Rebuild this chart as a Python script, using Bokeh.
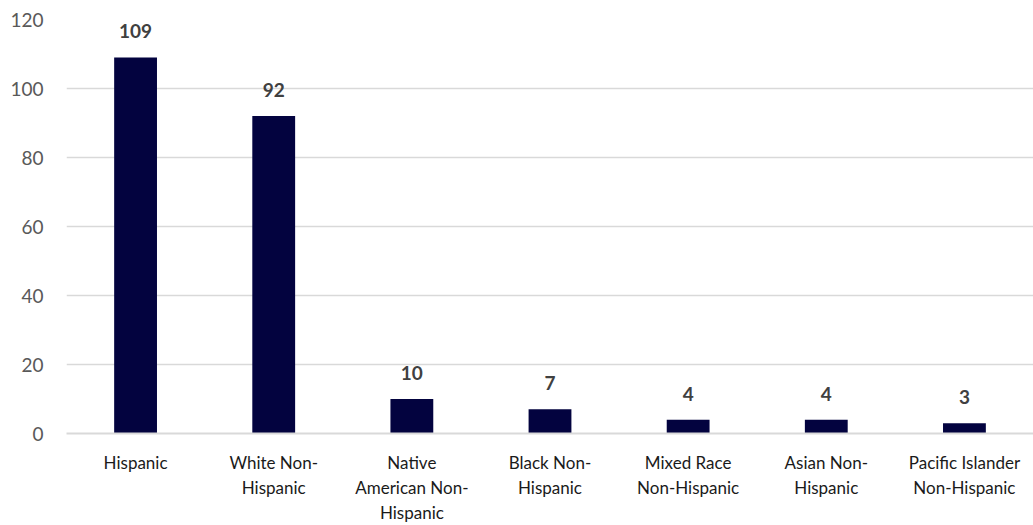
from bokeh.plotting import figure
from bokeh.models import ColumnDataSource, Range1d, FixedTicker
from bokeh.core.properties import value
from bokeh.embed import file_html
from bokeh.resources import INLINE

categories = ["Hispanic", "White Non-\nHispanic", "Native\nAmerican Non-\nHispanic",
              "Black Non-\nHispanic", "Mixed Race\nNon-Hispanic", "Asian Non-\nHispanic",
              "Pacific Islander\nNon-Hispanic"]
counts = [109, 92, 10, 7, 4, 4, 3]
y_ticks = [0, 20, 40, 60, 80, 100, 120]

FONT = "Lato"

src = ColumnDataSource(dict(cat=categories, val=counts, lab=[str(v) for v in counts]))

p = figure(x_range=categories, y_range=Range1d(0, 120), width=1033, height=525,
           output_backend="svg", toolbar_location=None,
           min_border_left=66, min_border_right=0, min_border_top=19, min_border_bottom=91)
p.outline_line_color = None
p.background_fill_color = "white"

p.vbar(x="cat", top="val", width=0.31, source=src, fill_color="#03033f", line_color=None)
p.text(x="cat", y="val", text="lab", source=src, text_align="center", text_baseline="bottom",
       y_offset=-19, text_font=value(FONT), text_font_style="bold", text_font_size="19px",
       text_color="#404040")

p.yaxis.ticker = FixedTicker(ticks=y_ticks)
p.yaxis.axis_line_color = None
p.yaxis.major_tick_line_color = None
p.yaxis.minor_tick_line_color = None
p.yaxis.major_label_text_font = FONT
p.yaxis.major_label_text_font_size = "19px"
p.yaxis.major_label_text_color = "#595959"
p.yaxis.major_label_standoff = 17

p.xaxis.axis_line_color = "#d9d9d9"
p.xaxis.axis_line_width = 2
p.xaxis.major_tick_line_color = None
p.xaxis.minor_tick_line_color = None
p.xaxis.major_label_text_font = FONT
p.xaxis.major_label_text_font_size = "17px"
p.xaxis.major_label_text_color = "#1a1a1a"
p.xaxis.major_label_standoff = 12

p.xgrid.grid_line_color = None
p.ygrid.grid_line_color = "#d9d9d9"
p.ygrid.grid_line_width = 1.5

open("out.html", "w").write(file_html(p, INLINE))
